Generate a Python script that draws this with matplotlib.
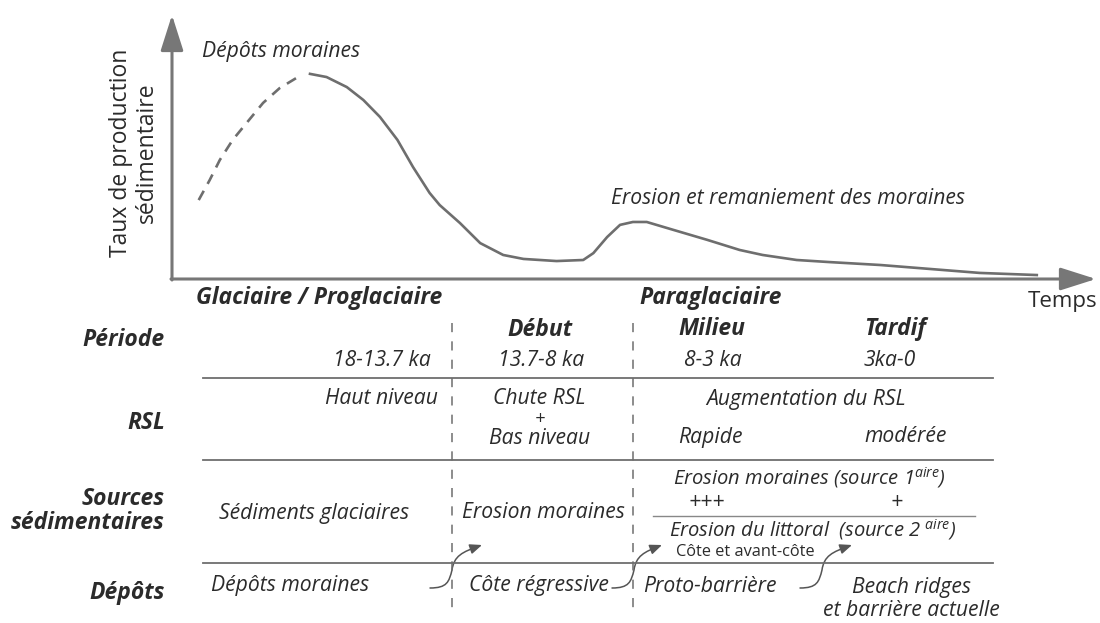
import matplotlib
matplotlib.use("Agg")
import matplotlib.pyplot as plt
from matplotlib.path import Path
from matplotlib.patches import FancyArrowPatch

plt.rcParams['font.family'] = ['Open Sans', 'DejaVu Sans']
plt.rcParams['mathtext.fontset'] = 'custom'
plt.rcParams['mathtext.it'] = 'Open Sans:italic'
plt.rcParams['mathtext.rm'] = 'Open Sans:italic'

# sediment production curve (time 0-100, rate 0-100)
dash_t = [2.9, 4.1, 5.2, 6.6, 8.2, 9.9, 11.7, 13.5]
dash_r = [29.9, 37.5, 45.1, 52.7, 59.5, 66.7, 72.3, 76.1]
solid_t = [15.0, 16.8, 19.0, 20.8, 22.6, 24.5, 26.2, 28.0, 29.1, 31.3, 33.5, 36.0,
           38.2, 41.8, 44.7, 45.8, 47.3, 48.7, 50.1, 51.6, 54.5, 58.2, 61.7, 64.2,
           67.9, 71.5, 77.0, 82.4, 87.8, 94.0]
solid_r = [77.7, 76.5, 72.7, 67.8, 61.4, 52.7, 42.4, 32.6, 28.0, 21.2, 13.6, 9.1,
           7.6, 6.8, 7.2, 9.8, 15.9, 20.5, 21.6, 21.6, 18.6, 14.8, 11.0, 9.1,
           7.2, 6.4, 5.3, 3.8, 2.3, 1.5]

row_labels = ["Période", "RSL", "Sources\nsédimentaires", "Dépôts"]
phases = ["Glaciaire / Proglaciaire", "Paraglaciaire"]
periods = ["Début", "Milieu", "Tardif"]
ages = ["18-13.7 ka", "13.7-8 ka", "8-3 ka", "3ka-0"]
rsl = ["Haut niveau", "Chute RSL", "+", "Bas niveau", "Augmentation du RSL", "Rapide", "modérée"]
sources = ["Sédiments glaciaires", "Erosion moraines",
           r"Erosion moraines (source 1$^{aire}$)", "+++", "+",
           r"Erosion du littoral  (source 2 $^{aire}$)", "Côte et avant-côte"]
deposits = ["Dépôts moraines", "Côte régressive", "Proto-barrière",
            "Beach ridges\net barrière actuelle"]

TXT = "#2b2b2b"
LINE = "#6e6e6e"

fig = plt.figure(figsize=(11, 6.23), dpi=100)
ax = fig.add_axes([0, 0, 1, 1])
ax.set_xlim(0, 1100)
ax.set_ylim(623, 0)
ax.axis("off")

# curve axes
axc = fig.add_axes([172 / 1100, 1 - 279 / 623, 920 / 1100, 264 / 623])
axc.set_xlim(0, 100)
axc.set_ylim(0, 100)
axc.axis("off")
axc.plot(dash_t, dash_r, color=LINE, lw=1.9, dashes=(4, 3))
axc.plot(solid_t, solid_r, color=LINE, lw=1.9, solid_joinstyle="round")

# axis arrows
arr = dict(arrowstyle="-|>,head_length=1.1,head_width=0.35", mutation_scale=20,
           lw=2.2, color="#777777", shrinkA=0, shrinkB=0)
ax.annotate("", xy=(1096, 279), xytext=(171, 279), arrowprops=arr)
ax.annotate("", xy=(172, 15), xytext=(172, 280), arrowprops=arr)

it = dict(style="italic", color=TXT, fontsize=15.2)
bi = dict(style="italic", weight="bold", color=TXT, fontsize=16.5)

ax.text(134, 153, "Taux de production\nsédimentaire", rotation=90, ha="center",
        va="center", fontsize=16.5, color=TXT, linespacing=1.15)
ax.text(202, 52, "Dépôts moraines", ha="left", va="center", **it)
ax.text(611, 198, "Erosion et remaniement des moraines", ha="left", va="center", **it)
ax.text(1097, 302, "Temps", ha="right", va="center", fontsize=16, color=TXT)

# table frame
for y in [378, 460, 563]:
    ax.plot([203, 993], [y, y], color=LINE, lw=1.3)
for x in [452, 633]:
    ax.plot([x, x], [323, 612], color=LINE, lw=1.1, dashes=(6, 6))
ax.plot([653, 975], [516, 516], color="#888888", lw=1)

# row labels
for lab, y in zip(row_labels, [340, 423, 511, 593]):
    ax.text(165, y, lab, ha="right", va="center", multialignment="right",
            linespacing=1.05, **bi)

ax.text(196, 298, phases[0], ha="left", va="center", **bi)
ax.text(639, 298, phases[1], ha="left", va="center", **bi)
ax.text(540, 330, periods[0], ha="center", va="center", **bi)
ax.text(712, 329, periods[1], ha="center", va="center", **bi)
ax.text(864, 329, periods[2], ha="left", va="center", **bi)

ax.text(431, 360, ages[0], ha="right", va="center", **it)
ax.text(541, 360, ages[1], ha="center", va="center", **it)
ax.text(713, 360, ages[2], ha="center", va="center", **it)
ax.text(864, 360, ages[3], ha="left", va="center", **it)

ax.text(438, 399, rsl[0], ha="right", va="center", **it)
ax.text(539, 398, rsl[1], ha="center", va="center", **it)
ax.text(540, 419, rsl[2], ha="center", va="center", style="italic", color=TXT, fontsize=13)
ax.text(540, 439, rsl[3], ha="center", va="center", **it)
ax.text(806, 399, rsl[4], ha="center", va="center", **it)
ax.text(710, 437, rsl[5], ha="center", va="center", **it)
ax.text(864, 437, rsl[6], ha="left", va="center", **it)

sup = dict(it, fontsize=14.5)
ax.text(314, 513, sources[0], ha="center", va="center", **it)
ax.text(543, 513, sources[1], ha="center", va="center", **it)
ax.text(673, 478, sources[2], ha="left", va="center", **sup)
ax.text(707, 502, sources[3], ha="center", va="center", **it)
ax.text(897, 502, sources[4], ha="center", va="center", **it)
ax.text(669, 530, sources[5], ha="left", va="center", **sup)
ax.text(676, 552, sources[6], ha="left", va="center", fontsize=11.8, color=TXT)

ax.text(290, 586, deposits[0], ha="center", va="center", **it)
ax.text(539, 586, deposits[1], ha="center", va="center", **it)
ax.text(643, 586, deposits[2], ha="left", va="center", **it)
ax.text(911, 599, deposits[3], ha="center", va="center", linespacing=1.15, **it)

# curved transition arrows
for x0, xm, x1 in [(430, 452, 482), (612, 634, 662), (800, 822, 852)]:
    p = Path([(x0, 588), (x0 + 17, 588), (xm - 3, 582), (xm, 570),
              (xm + 2, 556), (xm + 10, 552), (x1, 545)],
             [Path.MOVETO, Path.CURVE4, Path.CURVE4, Path.CURVE4,
              Path.CURVE4, Path.CURVE4, Path.CURVE4])
    ax.add_patch(FancyArrowPatch(path=p, arrowstyle="-|>,head_length=0.6,head_width=0.25",
                                 mutation_scale=12, lw=1.1, color="#555555"))

fig.savefig("out.png", dpi=100)
